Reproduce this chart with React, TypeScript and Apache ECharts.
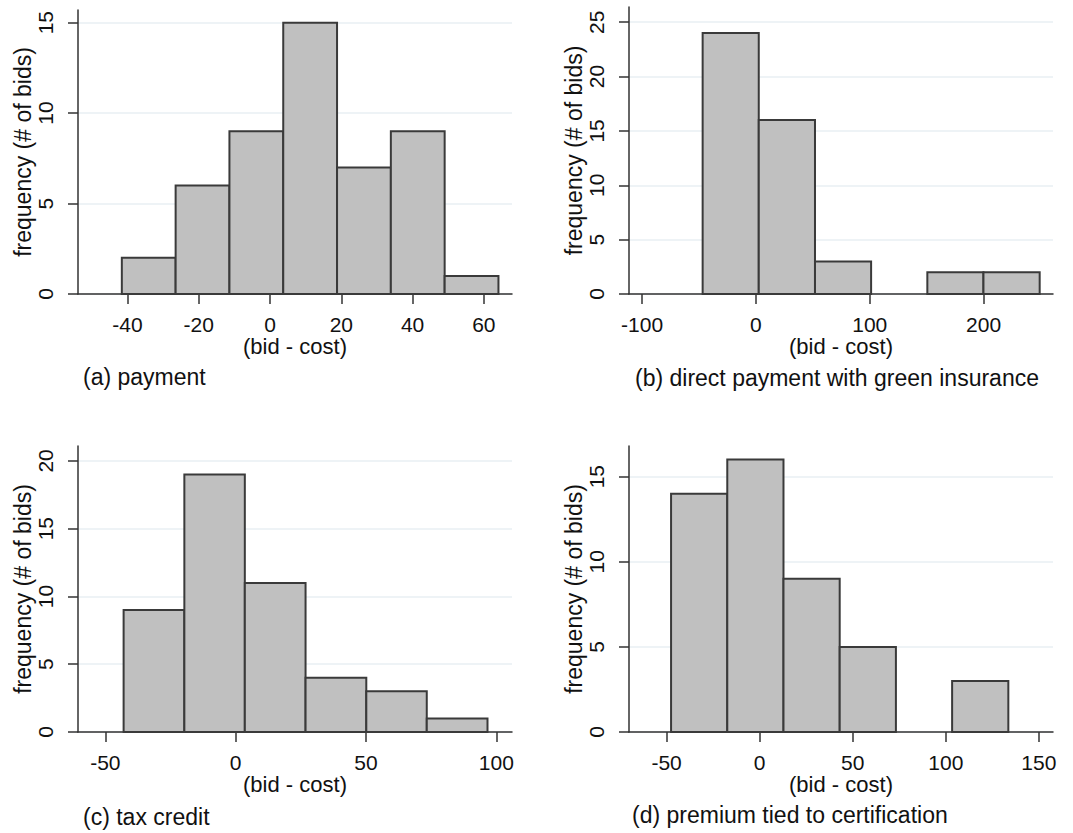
import React, { useEffect, useRef } from "react";
import * as echarts from "echarts";

// Panel (a) payment
const A_EDGES = [-41.6, -26.5, -11.4, 3.7, 18.8, 33.9, 49.0, 64.1];
const A_COUNTS = [2, 6, 9, 15, 7, 9, 1];
const A_XTICKS = [-40, -20, 0, 20, 40, 60];
const A_YTICKS = [0, 5, 10, 15];

// Panel (b) direct payment with green insurance
const B_EDGES = [-46.8, 2.5, 51.9, 101.2, 150.6, 199.9, 249.3];
const B_COUNTS = [24, 16, 3, 0, 2, 2];
const B_XTICKS = [-100, 0, 100, 200];
const B_YTICKS = [0, 5, 10, 15, 20, 25];

// Panel (c) tax credit
const C_EDGES = [-43.0, -19.7, 3.5, 26.8, 50.1, 73.3, 96.6];
const C_COUNTS = [9, 19, 11, 4, 3, 1];
const C_XTICKS = [-50, 0, 50, 100];
const C_YTICKS = [0, 5, 10, 15, 20];

// Panel (d) premium tied to certification
const D_EDGES = [-47.6, -17.4, 12.8, 43.0, 73.2, 103.4, 133.6];
const D_COUNTS = [14, 16, 9, 5, 0, 3];
const D_XTICKS = [-50, 0, 50, 100, 150];
const D_YTICKS = [0, 5, 10, 15];

const TITLES = [
  "(a) payment",
  "(b) direct payment with green insurance",
  "(c) tax credit",
  "(d) premium tied to certification",
];
const X_NAME = "(bid - cost)";
const Y_NAME = "frequency (# of bids)";

const FONT = '"Liberation Sans", Arial, sans-serif';
const TEXT = "#111";
const AXIS = "#333";

type Panel = {
  edges: number[];
  counts: number[];
  xTicks: number[];
  yTicks: number[];
  xRange: [number, number];
  yRange: [number, number];
  grid: { left: number; top: number; width: number; height: number };
  title: { left: number; top: number };
};

const PANELS: Panel[] = [
  {
    edges: A_EDGES, counts: A_COUNTS, xTicks: A_XTICKS, yTicks: A_YTICKS,
    xRange: [-53.9, 67.9], yRange: [0, 15.7],
    grid: { left: 78, top: 10, width: 434, height: 284 },
    title: { left: 83, top: 365 },
  },
  {
    edges: B_EDGES, counts: B_COUNTS, xTicks: B_XTICKS, yTicks: B_YTICKS,
    xRange: [-111.5, 261], yRange: [0, 26.4],
    grid: { left: 629, top: 7, width: 424, height: 287 },
    title: { left: 635, top: 366 },
  },
  {
    edges: C_EDGES, counts: C_COUNTS, xTicks: C_XTICKS, yTicks: C_YTICKS,
    xRange: [-60.5, 106], yRange: [0, 21.1],
    grid: { left: 78, top: 446, width: 434, height: 286 },
    title: { left: 83, top: 805 },
  },
  {
    edges: D_EDGES, counts: D_COUNTS, xTicks: D_XTICKS, yTicks: D_YTICKS,
    xRange: [-70.2, 157.6], yRange: [0, 16.8],
    grid: { left: 629, top: 446, width: 424, height: 286 },
    title: { left: 632, top: 803 },
  },
];

function buildOption() {
  const grid: any[] = [];
  const xAxis: any[] = [];
  const yAxis: any[] = [];
  const series: any[] = [];
  const title: any[] = [];

  PANELS.forEach((p, i) => {
    grid.push({ ...p.grid, containLabel: false, outerBoundsMode: "none" });
    title.push({
      text: TITLES[i],
      left: p.title.left,
      top: p.title.top,
      padding: 0,
      textStyle: { fontFamily: FONT, fontSize: 23, fontWeight: "normal", color: TEXT },
    });
    xAxis.push({
      type: "value",
      gridIndex: i,
      min: p.xRange[0],
      max: p.xRange[1],
      name: X_NAME,
      nameLocation: "middle",
      nameGap: 40,
      nameTextStyle: { fontFamily: FONT, fontSize: 22, color: TEXT },
      axisLine: { show: true, onZero: false, lineStyle: { color: AXIS, width: 1.5 } },
      axisTick: { show: true, length: 10, customValues: p.xTicks, lineStyle: { color: AXIS, width: 1.5 } },
      axisLabel: { show: true, customValues: p.xTicks, margin: 20, fontFamily: FONT, fontSize: 21, color: TEXT },
      splitLine: { show: false },
    });
    yAxis.push({
      type: "value",
      gridIndex: i,
      min: p.yRange[0],
      max: p.yRange[1],
      name: Y_NAME,
      nameLocation: "middle",
      nameGap: 44,
      nameRotate: 90,
      nameTextStyle: { fontFamily: FONT, fontSize: 23, color: TEXT },
      axisLine: { show: true, onZero: false, lineStyle: { color: AXIS, width: 1.5 } },
      axisTick: { show: true, length: 10, customValues: p.yTicks, lineStyle: { color: AXIS, width: 1.5 } },
      axisLabel: { show: true, customValues: p.yTicks, rotate: 90, margin: 22, fontFamily: FONT, fontSize: 21, color: TEXT },
      splitLine: { show: true, lineStyle: { color: "#e8eff3", width: 1.5 } },
    });
    const data = p.counts
      .map((c, k) => [p.edges[k], p.edges[k + 1], c])
      .filter((d) => d[2] > 0);
    series.push({
      type: "custom",
      xAxisIndex: i,
      yAxisIndex: i,
      data,
      encode: { x: [0, 1], y: 2 },
      renderItem: (_params: any, api: any) => {
        const x0 = api.value(0);
        const x1 = api.value(1);
        const c = api.value(2);
        const p0 = api.coord([x0, c]);
        const p1 = api.coord([x1, 0]);
        return {
          type: "rect",
          shape: { x: p0[0], y: p0[1], width: p1[0] - p0[0], height: p1[1] - p0[1] },
          style: { fill: "#c0c0c0", stroke: "#3a3a3a", lineWidth: 2 },
        };
      },
    });
  });

  return {
    animation: false,
    backgroundColor: "#ffffff",
    title,
    grid,
    xAxis,
    yAxis,
    series,
  };
}

export default function App() {
  const ref = useRef<HTMLDivElement>(null);
  useEffect(() => {
    if (!ref.current) return;
    const chart = echarts.init(ref.current, undefined, { renderer: "svg" });
    chart.setOption(buildOption() as any);
    return () => chart.dispose();
  }, []);
  return (
    <div
      ref={ref}
      style={{ position: "absolute", left: 0, top: 0, width: 1073, height: 833, background: "#fff" }}
    />
  );
}
